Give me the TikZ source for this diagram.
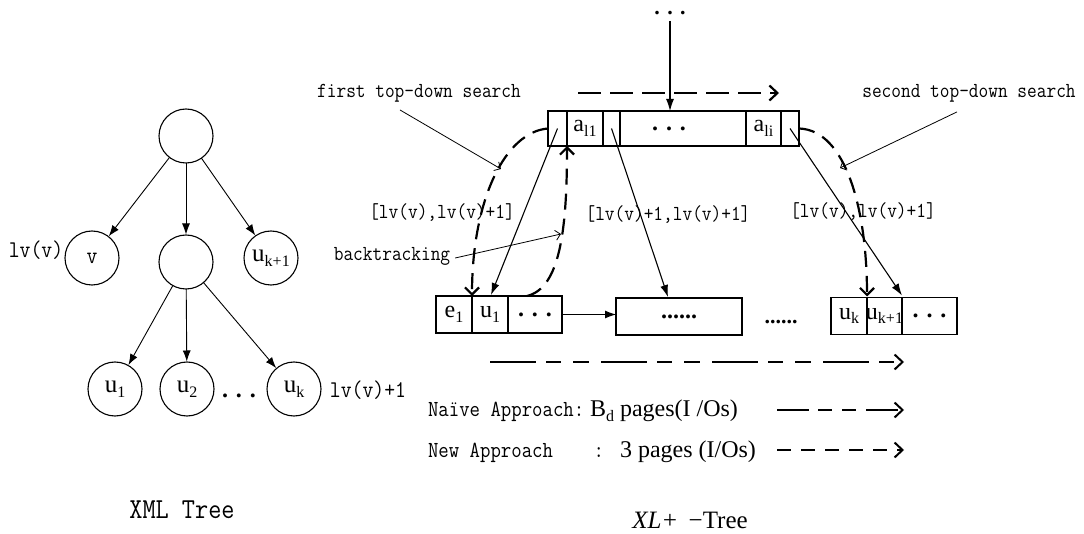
\documentclass[tikz,border=0pt]{standalone}
\usepackage{fontspec}
\setmainfont{Liberation Serif}
% narrowed typewriter serif for the plain labels
\newfontfamily\monofont[FakeStretch=0.88]{Latin Modern Mono}
\usetikzlibrary{arrows.meta,calc}
% lowered, smaller subscript text
\newcommand\lsub[1]{\raisebox{-0.45ex}{\fontsize{16}{16}\selectfont #1}}
\newcommand\fsz[1]{\fontsize{#1}{#1}\selectfont}

\begin{document}
\begin{tikzpicture}[x=1pt,y=-1pt,
  every node/.style={inner sep=0pt,outer sep=0pt},
  circ/.style={circle,draw,line width=1.1pt,minimum size=54pt,font=\fsz{25}},
  edge/.style={line width=0.9pt,-{Latex[length=11pt,width=8pt]},shorten >=0.5pt},
  ptr/.style={line width=1.1pt,-{Latex[length=12pt,width=8pt]}},
  cell/.style={draw,line width=1.3pt,font=\fsz{24}},
  topcell/.style={cell,minimum height=35pt},
  botcell/.style={cell,minimum height=37pt},
  lbl/.style={font=\monofont\fsz{21.4}},
  treelbl/.style={font=\monofont\fsz{24}},
  note/.style={line width=0.8pt,-{Straight Barb[length=5pt,width=10pt]}},
  search/.style={line width=2.2pt,dash pattern=on 16pt off 9pt,
                 -{Straight Barb[length=7pt,width=14pt]}},
  scan/.style={line width=2.2pt,-{Straight Barb[length=8pt,width=15pt]}},
]
\useasboundingbox (0,0) rectangle (1084,534);

% ---------------- XML tree ----------------
\node[circ] (root) at (186,136) {};
\node[circ] (v)    at (92,258)  {\monofont\fsz{24}v};
\node[circ] (mid)  at (186,262) {};
\node[circ] (uk1)  at (271,258) {u\lsub{k+1}};
\node[circ] (u1)   at (115,389) {u\lsub{1}};
\node[circ] (u2)   at (187,389) {u\lsub{2}};
\node[circ] (uk)   at (294,389) {u\lsub{k}};
\node[font=\bfseries\fsz{24}] (tdots) at (239,396) {. . .};

\draw[edge] (root) -- (v);
\draw[edge] (root) -- (mid);
\draw[edge] (root) -- (uk1);
\draw[edge] (mid) -- (u1);
\draw[edge] (mid) -- (u2);
\draw[edge] (mid) -- (uk);

\node[treelbl] (lvv)  at (36,250)  {lv(v)};
\node[treelbl] (lvv1) at (368,390) {lv(v)+1};
\node[font=\monofont\fsz{29}] (xmlt) at (182,510) {XML Tree};

% ---------------- XL+ tree: top node ----------------
\node[font=\bfseries\fsz{22}] (updots) at (670,13) {. . .};
\node[topcell,minimum width=19pt]  (c0)  at (557.5,128.5) {};
\node[topcell,minimum width=36pt]  (al1) at (585,128.5)   {a\lsub{l1}};
\node[topcell,minimum width=17pt]  (c2)  at (611.5,128.5) {};
\node[topcell,minimum width=126pt] (cd)  at (683,128.5)   {\bfseries\hspace*{-28pt}. . .};
\node[topcell,minimum width=35pt]  (ali) at (763.5,128.5) {a\lsub{li}};
\node[topcell,minimum width=18pt]  (c5)  at (790,128.5)   {};

\draw[ptr] (updots.south) ++(0,6) -- (updots |- cd.north);

% ---------------- leaf pages ----------------
\node[botcell,minimum width=36pt] (e1)  at (454,314.5) {e\lsub{1}};
\node[botcell,minimum width=36pt] (pu1) at (490,314.5) {u\lsub{1}};
\node[botcell,minimum width=54pt] (bd1) at (535,314.5) {\bfseries . . .};
\node[botcell,minimum width=126pt] (pg2) at (679,316.5) {\bfseries ......};
\node[font=\bfseries\fsz{22}] (gap) at (781,322) {......};
\node[botcell,minimum width=36pt] (puk)  at (849,316)   {u\lsub{k}};
\node[botcell,minimum width=35pt] (puk1) at (884.5,316) {\hspace*{-4pt}u\lsub{k+1}\hspace*{-4pt}};
\node[botcell,minimum width=55pt] (bd3)  at (929.5,316) {\bfseries . . .};

\draw[line width=0.9pt,-{Latex[length=11pt,width=8pt]}] (bd1.east) -- (bd1.east -| pg2.west);

% child pointers
\draw[ptr] (c0.center) -- ($(pu1.north)+(1,-1)$);
\draw[ptr] (c2.center) -- ($(pg2.north)+(-11,-1)$);
\draw[ptr] (c5.center) -- ($(puk1.north east)+(0,-2)$);

% ---------------- search paths ----------------
\coordinate (s1) at (578,93);
\coordinate (s2) at (779,93);
\draw[scan,dash pattern=on 23pt off 9pt] (s1) -- (s2);

\draw[search] (c0.west) .. controls (505,132) and (472,200) .. (e1.north east);
\draw[search] ($(bd1.north)+(-8,0)$) .. controls (560,288) and (567,230) .. (al1.south west);
\draw[search] (c5.east) .. controls (846,130) and (867,210) .. ($(puk.north east)+(0,-1)$);

\coordinate (l1) at (490,362);
\coordinate (l2) at (904,362);
\draw[scan,line width=2pt,dash pattern=on 46pt off 10pt on 15pt off 12pt on 16pt off 12pt] (l1) -- (l2);

% ---------------- annotations ----------------
\node[lbl] (first)  at (419,93)  {first top-down search};
\node[lbl] (second) at (969,93)  {second top-down search};
\node[lbl] (back)   at (392,256) {backtracking};
\node[lbl] (r1) at (442,213) {[lv(v),lv(v)+1]};
\node[lbl] (r2) at (668,215) {[lv(v)+1,lv(v)+1]};
\node[lbl] (r3) at (863,212) {[lv(v),lv(v)+1]};

\coordinate (fp) at (501,169);
\coordinate (sp) at (840,168);
\coordinate (bp) at (561,234);
\draw[note] ($(first.south)+(-19,8)$) -- (fp);
\draw[note] ($(second.south)+(-12,10)$) -- (sp);
\draw[note] (back.east) ++(5,2) -- (bp);

% ---------------- legend ----------------
\node[anchor=base west] (naive) at (428,417)
  {\makebox[162pt][l]{\monofont\fsz{23}Naïve Approach:}\fsz{24}B\lsub{d} pages(I /Os)};
\node[anchor=base west] (new) at (428,457)
  {\makebox[176pt][l]{\monofont\fsz{23}New Approach\hfill:}\hspace{16pt}\fsz{24}3 pages (I/Os)};
\coordinate (n1) at (777,410);
\coordinate (n2) at (904,410);
\coordinate (m1) at (777,450);
\coordinate (m2) at (904,450);
\draw[scan,line width=2pt,dash pattern=on 32pt off 9pt on 14pt off 10pt on 14pt off 10pt] (n1) -- (n2);
\draw[scan,line width=2pt,dash pattern=on 14pt off 10pt] (m1) -- (m2);

\node[font=\fsz{25}] (xlt) at (690,520) {\textit{XL+}\, −Tree};
\end{tikzpicture}
\end{document}
